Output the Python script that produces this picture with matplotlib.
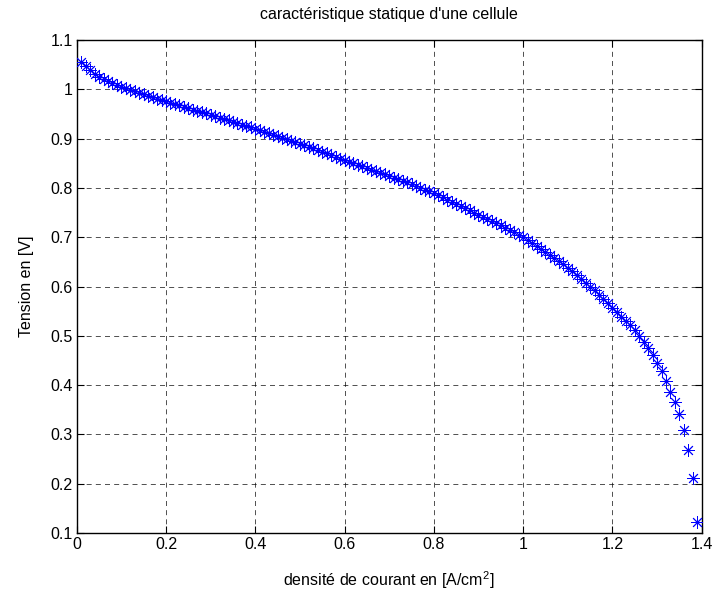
import matplotlib
matplotlib.use("Agg")
import matplotlib.pyplot as plt

courant = [round(0.01 * i, 2) for i in range(1, 140)]
tension = [
    1.056, 1.047, 1.039, 1.032, 1.026, 1.021, 1.017, 1.013, 1.009, 1.005,
    1.002, 0.999, 0.996, 0.993, 0.990, 0.987, 0.984, 0.981, 0.978, 0.976,
    0.973, 0.970, 0.968, 0.965, 0.962, 0.959, 0.956, 0.954, 0.951, 0.948,
    0.945, 0.942, 0.940, 0.937, 0.934, 0.931, 0.928, 0.926, 0.923, 0.920,
    0.917, 0.914, 0.911, 0.908, 0.905, 0.902, 0.899, 0.896, 0.893, 0.890,
    0.887, 0.883, 0.880, 0.876, 0.873, 0.870, 0.866, 0.863, 0.859, 0.856,
    0.853, 0.850, 0.847, 0.844, 0.841, 0.837, 0.834, 0.831, 0.828, 0.825,
    0.821, 0.818, 0.814, 0.811, 0.807, 0.803, 0.800, 0.796, 0.793, 0.789,
    0.785, 0.781, 0.776, 0.772, 0.768, 0.763, 0.759, 0.755, 0.750, 0.746,
    0.742, 0.737, 0.733, 0.728, 0.724, 0.719, 0.714, 0.710, 0.705, 0.700,
    0.694, 0.688, 0.682, 0.676, 0.669, 0.663, 0.657, 0.651, 0.645, 0.638,
    0.631, 0.623, 0.616, 0.608, 0.600, 0.592, 0.583, 0.575, 0.566, 0.557,
    0.548, 0.539, 0.530, 0.521, 0.512, 0.500, 0.488, 0.475, 0.462, 0.444,
    0.429, 0.408, 0.387, 0.366, 0.341, 0.309, 0.268, 0.212, 0.122,
]
xticks = [0, 0.2, 0.4, 0.6, 0.8, 1, 1.2, 1.4]
xticklabels = ["0", "0.2", "0.4", "0.6", "0.8", "1", "1.2", "1.4"]
yticks = [0.1, 0.2, 0.3, 0.4, 0.5, 0.6, 0.7, 0.8, 0.9, 1.0, 1.1]
yticklabels = ["0.1", "0.2", "0.3", "0.4", "0.5", "0.6", "0.7", "0.8", "0.9", "1", "1.1"]

plt.rcParams['font.family'] = ['Liberation Sans', 'DejaVu Sans']
plt.rcParams['font.size'] = 11.5
plt.rcParams['mathtext.fontset'] = 'custom'
plt.rcParams['mathtext.rm'] = 'Liberation Sans'

fig = plt.figure(figsize=(7.15, 5.93), dpi=100)
ax = fig.add_axes([0.1073, 0.1012, 0.8741, 0.8313])

ax.plot(courant, tension, linestyle='none', marker=(8, 2, 0), markersize=9,
        markeredgewidth=0.65, color=(0, 0, 1), zorder=3)

ax.set_xlim(0, 1.4)
ax.set_ylim(0.1, 1.1)
ax.set_xticks(xticks)
ax.set_xticklabels(xticklabels)
ax.set_yticks(yticks)
ax.set_yticklabels(yticklabels)
ax.grid(True, color='black', linestyle=(0, (6, 5)), linewidth=0.6, alpha=0.8)
ax.tick_params(direction='in', top=True, right=True, length=5, width=0.8, pad=3)
for s in ax.spines.values():
    s.set_linewidth(1.0)

ax.set_title("caractéristique statique d'une cellule", fontsize=11.5, pad=15)
ax.set_xlabel("densité de courant en [A/cm$^2$]", labelpad=12)
ax.set_ylabel("Tension en [V]", labelpad=12)

fig.savefig("out.png", dpi=100)
